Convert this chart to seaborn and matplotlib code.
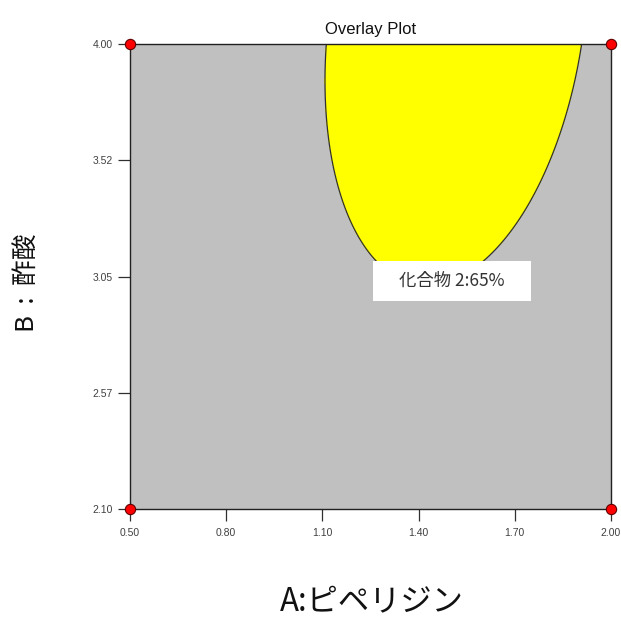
import numpy as np
import pandas as pd
import matplotlib
matplotlib.use("Agg")
import matplotlib.pyplot as plt
from matplotlib.patches import Rectangle
import seaborn as sns

# Factor A (piperidine) and factor B (acetic acid) axes
a_ticks = [0.50, 0.80, 1.10, 1.40, 1.70, 2.00]
a_tick_labels = ["0.50", "0.80", "1.10", "1.40", "1.70", "2.00"]
b_ticks = [2.10, 2.575, 3.05, 3.525, 4.00]
b_tick_labels = ["2.10", "2.57", "3.05", "3.52", "4.00"]

# Design points at the corners of the factor space
design_a = [0.50, 0.50, 2.00, 2.00]
design_b = [2.10, 4.00, 2.10, 4.00]

# Quadratic model for compound 2 (%): intercept, A, B, AB, A^2, B^2
yield_coef = [-89.39, 102.66, 40.82, 7.456, -43.86, -6.374]
yield_limit = 65
limit_label = "化合物 2:65%"

sns.set_style("white")
plt.rcParams["font.family"] = ["Noto Sans CJK JP", "DejaVu Sans"]
narrow = ["Liberation Sans", "DejaVu Sans"]

fig = plt.figure(figsize=(6.21, 6.20), dpi=100)
ax = fig.add_axes([0.2093, 0.179, 0.7746, 0.750])
ax.set_facecolor("#C0C0C0")

# Evaluate the model over the factor space
grid_a = np.linspace(a_ticks[0], a_ticks[-1], 400)
grid_b = np.linspace(b_ticks[0], b_ticks[-1], 400)
A, B = np.meshgrid(grid_a, grid_b)
c0, c1, c2, c12, c11, c22 = yield_coef
Y = c0 + c1 * A + c2 * B + c12 * A * B + c11 * A ** 2 + c22 * B ** 2

ax.contourf(A, B, Y, levels=[yield_limit, Y.max() + 1], colors=["#FFFF00"])
ax.contour(A, B, Y, levels=[yield_limit], colors=["#303030"], linewidths=0.9)

# Corner design points
pts = pd.DataFrame({"A": design_a, "B": design_b})
sns.scatterplot(data=pts, x="A", y="B", ax=ax, color="#FF0000", s=55,
                edgecolor="#600000", linewidth=0.8, zorder=10, clip_on=False,
                legend=False)

# Contour label box
ax.add_patch(Rectangle((1.258, 2.952), 0.492, 0.163, facecolor="white",
                       edgecolor="none", zorder=11))
ax.text(1.504, 3.032, limit_label, ha="center", va="center", fontsize=12.5,
        color="#333333", zorder=12)

ax.set_xlim(a_ticks[0], a_ticks[-1])
ax.set_ylim(b_ticks[0], b_ticks[-1])
ax.set_xticks(a_ticks)
ax.set_xticklabels(a_tick_labels, family=narrow, fontsize=7.5, color="#404040")
ax.set_yticks(b_ticks)
ax.set_yticklabels(b_tick_labels, family=narrow, fontsize=7.5, color="#404040")
ax.tick_params(axis="both", direction="out", length=8.5, width=0.9,
               color="#303030", bottom=True, left=True)
ax.tick_params(axis="x", pad=5)
ax.tick_params(axis="y", pad=4)
ax.set_xlabel("")
ax.set_ylabel("")
for sp in ax.spines.values():
    sp.set_color("#202020")
    sp.set_linewidth(1.0)

ax.set_title("Overlay Plot", family=narrow, fontsize=12, color="#111111", pad=7)

fig.text(0.599, 1 - 602 / 620, "A:ピペリジン", ha="center", va="center",
         fontsize=22.5, color="#111111")
fig.text(28 / 621, 1 - 283 / 620, "B  :  酢酸", ha="center", va="center",
         rotation=90, fontsize=18.5, color="#111111")

fig.savefig("out.png", dpi=100, facecolor="white")
